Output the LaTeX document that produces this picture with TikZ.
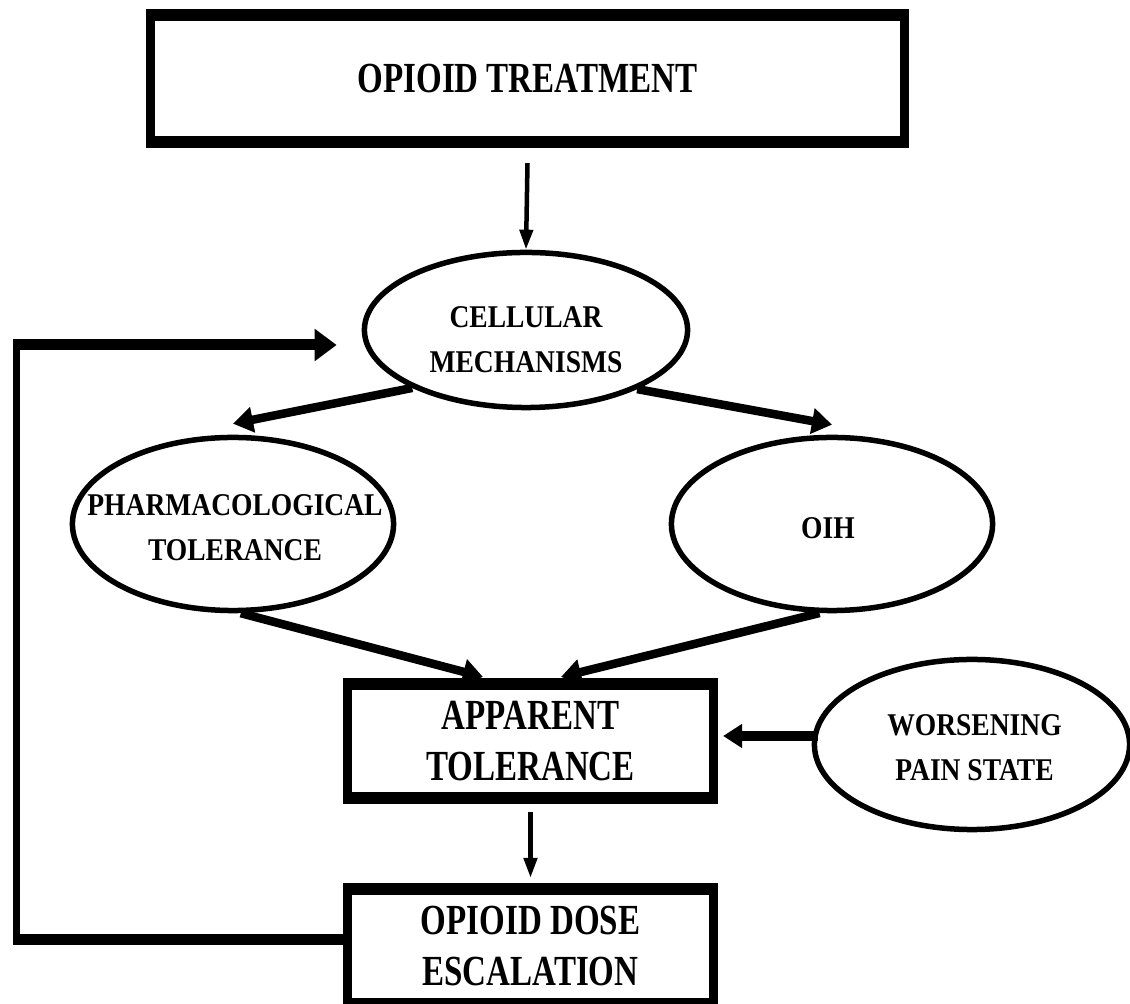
\documentclass[tikz,border=0pt]{standalone}
\usepackage{fontspec}
\setmainfont{Liberation Serif}
\newfontfamily\boxfont[FakeStretch=0.77]{Liberation Serif}
\newfontfamily\ovalfont[FakeStretch=0.87]{Liberation Serif}
\usetikzlibrary{shapes.geometric,arrows.meta}

\begin{document}
\begin{tikzpicture}[x=0.01cm, y=-0.01cm,
    box/.style={draw, line width=0.09cm, inner sep=0pt, align=center,
      font={\boxfont\bfseries\fontsize{12.2}{14.5}\selectfont}},
    oval/.style={ellipse, draw, line width=0.055cm, inner sep=0pt,
      minimum width=3.21cm, minimum height=1.73cm},
    ovaltext/.style={inner sep=0pt, align=center,
      font={\ovalfont\bfseries\fontsize{9}{12.8}\selectfont}},
    flow/.style={line width=0.045cm, -{Triangle[length=0.2cm,width=0.13cm]}},
    thickarrow/.style={line width=0.085cm, -{Triangle[length=0.2cm,width=0.25cm]}}]
  \useasboundingbox (0,0) rectangle (1130,1004);

  % Boxes and ovals
  \node[box, minimum width=7.54cm, minimum height=1.3cm] (treat) at (527.5,78.5) {OPIOID TREATMENT};
  \node[oval, minimum width=3.23cm, minimum height=1.55cm] (cell) at (526,330) {};
  \node[ovaltext] (celltext) at (526,340) {CELLULAR\\MECHANISMS};
  \node[oval] (pharm) at (233,524) {};
  \node[ovaltext] (pharmtext) at (235,527.5) {PHARMACOLOGICAL\\TOLERANCE};
  \node[oval] (oih) at (832,524) {};
  \node[ovaltext] (oihtext) at (828,528) {OIH};
  \node[box, minimum width=3.66cm, minimum height=1.17cm] (app) at (530.5,741) {APPARENT\\TOLERANCE};
  \node[oval, minimum width=3.15cm, minimum height=1.7cm] (worse) at (972,744.5) {};
  \node[ovaltext] (worsetext) at (974.5,747.5) {WORSENING\\PAIN STATE};
  \node[box, minimum width=3.66cm, minimum height=1.18cm] (dose) at (530.5,946.5) {OPIOID DOSE\\ESCALATION};

  % heavier top and bottom edges of the boxes
  \foreach \n in {treat,app,dose} {
    \fill (\n.north west) rectangle ([yshift=-0.125cm]\n.north east);
    \fill (\n.south west) rectangle ([yshift=0.12cm]\n.south east);
  }

  % Arrows
  \draw[flow] ([yshift=-0.15cm]treat.south) -- (cell.north);
  \draw[thickarrow] (cell.207) -- ([yshift=0.11cm]pharm.north);
  \draw[thickarrow] (cell.332) -- ([yshift=0.1cm]oih.north);
  \draw[thickarrow] (pharm.275) -- ([xshift=-0.475cm,yshift=0.01cm]app.north);
  \draw[thickarrow] (oih.262) -- ([xshift=0.305cm,yshift=0.01cm]app.north);
  \coordinate (painy) at (0,736);
  \draw[line width=0.1cm, -{Triangle[length=0.19cm,width=0.23cm]}, shorten <=-0.065cm, shorten >=0.05cm]
    (worse.west |- painy) -- (app.east |- painy);
  \draw[flow] ([yshift=-0.08cm]app.south) -- ([yshift=0.05cm]dose.north);

  % Feedback loop back to the cellular mechanisms
  \coordinate (looptop) at (16.5,345);
  \coordinate (loopbot) at (16.5,940);
  \draw[line width=0.07cm] ([yshift=0.055cm]looptop) -- ([yshift=-0.055cm]loopbot);
  \draw[line width=0.11cm] ([xshift=-0.035cm]loopbot) -- (dose.west |- loopbot);
  \draw[line width=0.11cm, -{Triangle[length=0.22cm,width=0.31cm]}, shorten >=0.25cm]
    ([xshift=-0.035cm]looptop) -- (cell.west |- looptop);
\end{tikzpicture}
\end{document}
